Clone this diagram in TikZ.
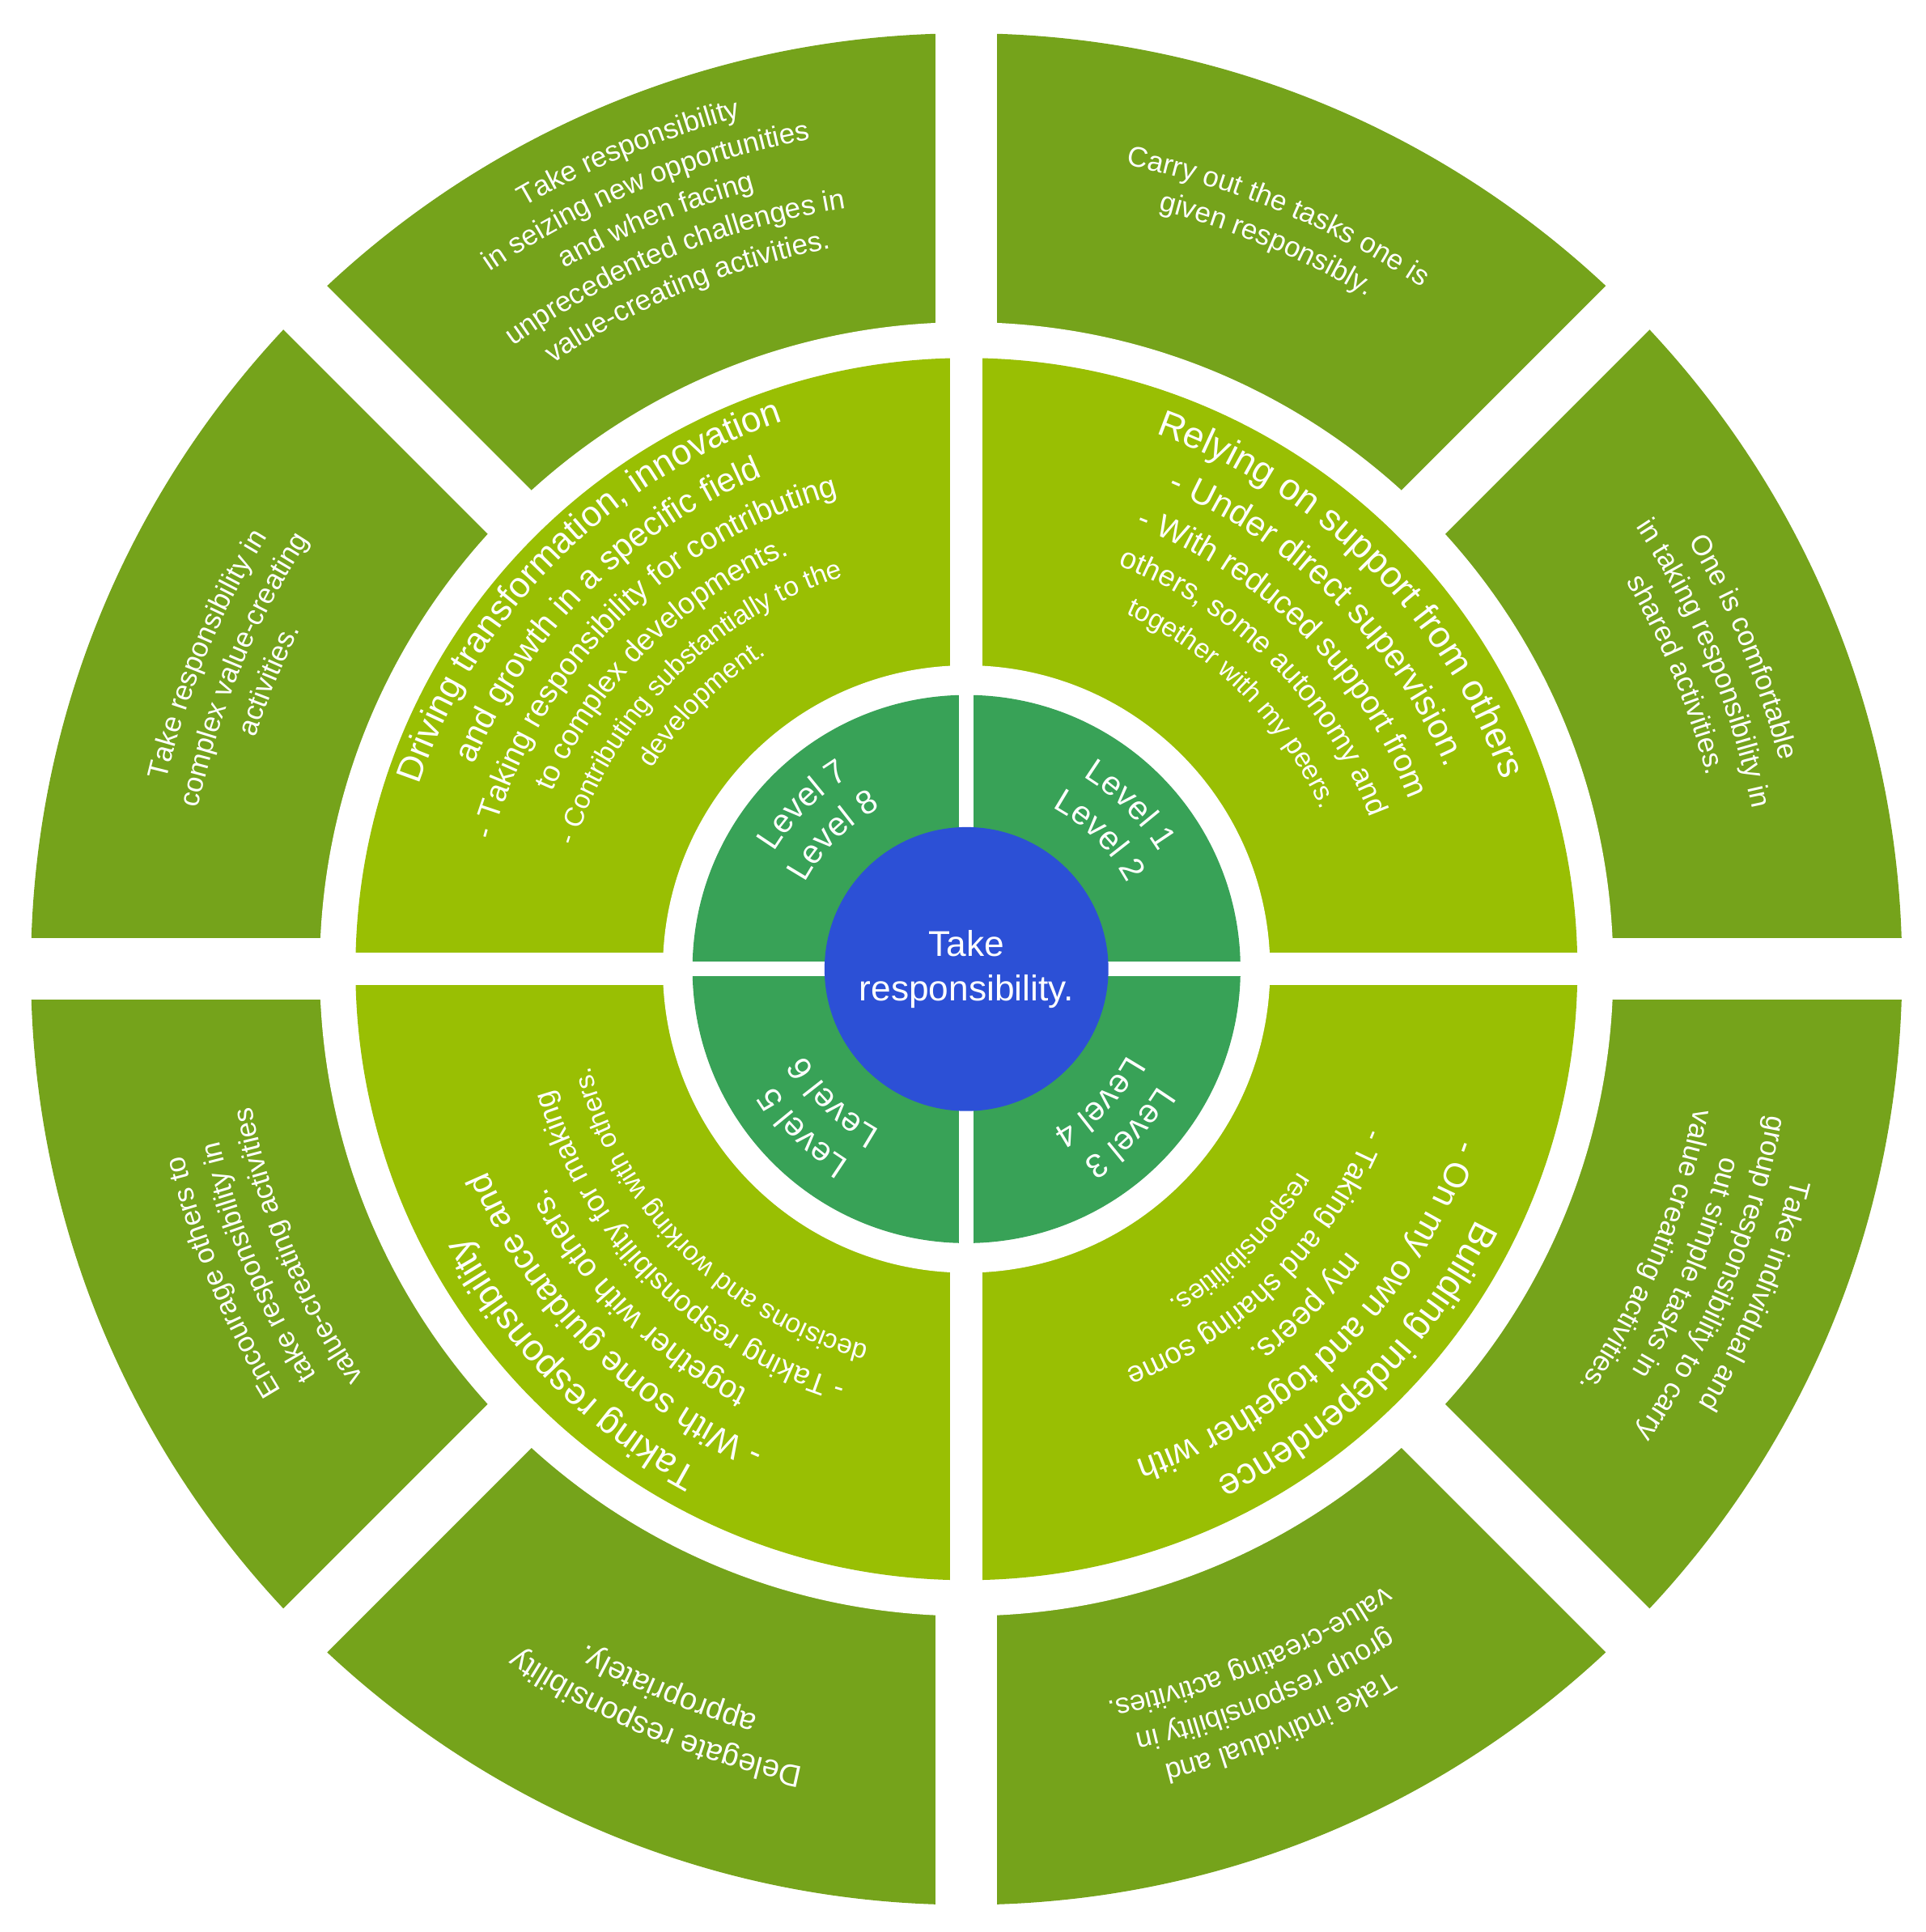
\documentclass[tikz,border=0pt]{standalone}
\usepackage{fontspec}
\setmainfont{Liberation Sans}
\usetikzlibrary{decorations.text,calc}
\definecolor{outerg}{HTML}{75A31B}
\definecolor{midg}{HTML}{99BF03}
\definecolor{innerg}{HTML}{38A257}
\definecolor{centerb}{HTML}{2C50D6}
\newcommand\arcline[5]{%
  \path[decorate,decoration={text along path,text align=center,text color=white,
    text={|\fontsize{#4}{#4}\selectfont|#5}}]
    ($(C)+({#2+#3}:#1pt)$) arc[start angle={#2+#3},end angle={#2-#3},radius=#1pt];}
\tikzset{gapline/.style={white,line width=#1}}
\begin{document}
\begin{tikzpicture}[x=1pt,y=1pt]
\useasboundingbox (0,0) rectangle (1560,1565);
\coordinate (C) at (783,780);
% outer ring
\fill[outerg] (C) circle[radius=758pt];
\foreach \a in {0,45,90,135}
  \draw[gapline=50pt] ($(C)+(\a:800pt)$) -- ($(C)+(\a+180:800pt)$);
\fill[white] (C) circle[radius=524pt];
% middle ring
\fill[midg] (C) circle[radius=495pt];
\foreach \a in {0,90}
  \draw[gapline=26pt] ($(C)+(\a:520pt)$) -- ($(C)+(\a+180:520pt)$);
\fill[white] (C) circle[radius=246pt];
% inner ring
\fill[innerg] (C) circle[radius=222pt];
\foreach \a in {0,90}
  \draw[gapline=12pt] ($(C)+(\a:230pt)$) -- ($(C)+(\a+180:230pt)$);
\fill[centerb] (C) circle[radius=115pt];
\node[white,font=\fontsize{29}{36}\selectfont,align=center] (ctr) at (C) {Take\\responsibility.};
% outer texts
\arcline{664}{67.5}{20}{23}{Carry out the tasks one is}
\arcline{634}{67.5}{20}{23}{given responsibly.}
\arcline{680}{22.5}{20}{23}{One is comfortable}
\arcline{650}{22.5}{20}{23}{in taking responsibility in}
\arcline{620}{22.5}{20}{23}{shared activities.}
\arcline{690}{-22.5}{20}{23}{Take individual and}
\arcline{660}{-22.5}{20}{23}{group responsibility to carry}
\arcline{630}{-22.5}{20}{23}{out simple tasks in}
\arcline{600}{-22.5}{20}{23}{value creating activities.}
\arcline{664}{-67.5}{20}{23}{Take individual and}
\arcline{634}{-67.5}{20}{23}{group responsibility in}
\arcline{604}{-67.5}{20}{23}{value-creating activities.}
\arcline{660}{-112.5}{20}{25}{Delegate responsibility}
\arcline{628}{-112.5}{20}{25}{appropriately.}
\arcline{652}{-157.5}{20}{23}{Encourage others to}
\arcline{621}{-157.5}{20}{23}{take responsibility in}
\arcline{590}{-157.5}{20}{23}{value-creating activities}
\arcline{666}{157.5}{20}{23}{Take responsibility in}
\arcline{636}{157.5}{20}{23}{complex value-creating}
\arcline{606}{157.5}{20}{23}{activities.}
\arcline{714}{112.5}{20}{23}{Take responsibility}
\arcline{684}{112.5}{20}{23}{in seizing new opportunities}
\arcline{654}{112.5}{20}{23}{and when facing}
\arcline{624}{112.5}{20}{23}{unprecedented challenges in}
\arcline{594}{112.5}{20}{23}{value-creating activities.}
% middle texts
\arcline{460}{45}{43}{30}{Relying on support from others}
\arcline{421}{45}{43}{28}{- Under direct supervision.}
\arcline{384}{45}{43}{26}{- With reduced support from}
\arcline{349}{45}{43}{24}{others, some autonomy and}
\arcline{315}{45}{43}{22}{together with my peers.}
\arcline{460}{-45}{43}{30}{Building independence}
\arcline{421}{-45}{43}{28}{- On my own and together with}
\arcline{384}{-45}{43}{26}{my peers.}
\arcline{349}{-45}{43}{24}{- Taking and sharing some}
\arcline{315}{-45}{43}{22}{responsibilities.}
\arcline{460}{-135}{43}{30}{Taking responsibility}
\arcline{421}{-135}{43}{28}{- With some guidance and}
\arcline{384}{-135}{43}{26}{together with others.}
\arcline{349}{-135}{43}{24}{- Taking responsibility for making}
\arcline{315}{-135}{43}{22}{decisions and working with others.}
\arcline{468}{135}{43}{29}{Driving transformation, innovation}
\arcline{432}{135}{43}{27}{and growth in a specific field}
\arcline{398}{135}{43}{25}{- Taking responsibility for contributing}
\arcline{365}{135}{43}{24}{to complex developments.}
\arcline{333}{135}{43}{22}{- Contributing substantially to the}
\arcline{302}{135}{43}{22}{development.}
% inner texts
\arcline{182}{45}{40}{27}{Level 1}
\arcline{148}{45}{40}{27}{Level 2}
\arcline{182}{-45}{40}{27}{Level 3}
\arcline{148}{-45}{40}{27}{Level 4}
\arcline{182}{-135}{40}{27}{Level 5}
\arcline{148}{-135}{40}{27}{Level 6}
\arcline{182}{135}{40}{27}{Level 7}
\arcline{148}{135}{40}{27}{Level 8}
\end{tikzpicture}
\end{document}
